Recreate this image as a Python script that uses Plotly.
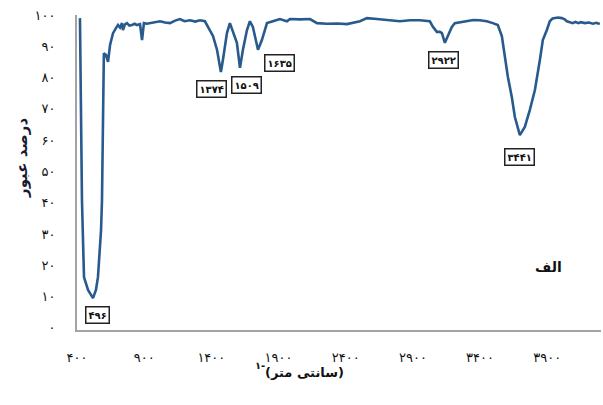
import plotly.graph_objects as go

# Wavenumber (on the chart's own axis scale) and transmittance (%)
wavenumber = [422, 430, 437, 452, 482, 519, 541, 556, 579, 586, 593, 600, 616, 631, 646, 668, 690, 705,
              720, 735, 742, 757, 772, 790, 809, 830, 846, 869, 884, 898, 920, 943, 980, 1018, 1055,
              1092, 1130, 1166, 1200, 1241, 1280, 1315, 1352, 1390, 1412, 1442, 1464, 1471, 1486, 1516,
              1538, 1561, 1590, 1613, 1635, 1665, 1687, 1709, 1739, 1747, 1776, 1814, 1858, 1910, 1962,
              1985, 2060, 2134, 2186, 2260, 2340, 2409, 2506, 2558, 2632, 2720, 2803, 2880, 2952, 3026,
              3049, 3078, 3101, 3116, 3138, 3160, 3190, 3212, 3260, 3302, 3350, 3398, 3450, 3495, 3532,
              3562, 3584, 3607, 3636, 3659, 3696, 3733, 3770, 3808, 3845, 3867, 3897, 3919, 3940, 3956,
              3980, 4008, 4030, 4046, 4070, 4090, 4110, 4130, 4150, 4180, 4210, 4240, 4265, 4291]
transmittance = [99.0, 72.8, 40.8, 16.2, 12.1, 9.5, 12.1, 16.2, 31.3, 40.8, 72.8, 87.8, 87.2, 85.0, 90.4,
                 94.2, 95.8, 96.8, 96.0, 97.4, 95.2, 97.0, 97.4, 96.6, 96.8, 97.2, 96.8, 97.1, 92.0, 97.4,
                 97.2, 97.4, 97.9, 98.0, 97.6, 97.4, 98.2, 98.7, 98.0, 98.3, 97.9, 98.3, 98.0, 95.2, 93.3,
                 88.9, 83.4, 81.8, 85.6, 94.2, 97.4, 94.6, 91.1, 83.1, 88.9, 95.2, 98.0, 96.2, 91.1, 88.9,
                 92.0, 97.4, 98.0, 98.7, 98.0, 98.7, 98.6, 98.7, 97.4, 97.2, 97.3, 97.1, 98.0, 99.0, 98.7,
                 98.3, 98.0, 98.3, 98.3, 98.0, 96.2, 94.6, 94.6, 94.2, 91.1, 93.3, 96.2, 97.4, 97.8, 98.0,
                 98.4, 98.3, 98.0, 97.4, 96.8, 93.3, 86.6, 80.2, 73.8, 67.4, 61.6, 64.2, 69.6, 76.0, 85.6,
                 92.0, 95.2, 98.0, 98.9, 99.0, 99.2, 99.0, 98.6, 98.0, 97.6, 97.4, 97.8, 97.4, 97.7, 97.4,
                 97.6, 97.2, 97.5, 97.1]

# Peak labels
peak_labels = ["۴۹۶", "۱۳۷۴", "۱۵۰۹", "۱۶۳۵", "۲۹۲۲", "۳۴۴۱"]
peak_label_x = [556, 1404, 1665, 1910, 3131, 3696]
peak_label_y = [4.1, 76.3, 77.6, 84.7, 85.6, 54.6]

# Axis ticks
x_tickvals = [400, 900, 1400, 1900, 2400, 2900, 3400, 3900]
x_ticktext = ["۴۰۰", "۹۰۰", "۱۴۰۰", "۱۹۰۰", "۲۴۰۰", "۲۹۰۰", "۳۴۰۰", "۳۹۰۰"]
y_tickvals = [0, 10, 20, 30, 40, 50, 60, 70, 80, 90, 100]
y_ticktext = ["۰", "۱۰", "۲۰", "۳۰", "۴۰", "۵۰", "۶۰", "۷۰", "۸۰", "۹۰", "۱۰۰"]

FONT = "DejaVu Sans"
W, H = 603, 405
L, R, T, B = 77, 2, 15, 75
pw, ph = W - L - R, H - T - B

fig = go.Figure()
fig.add_trace(go.Scatter(x=wavenumber, y=transmittance, mode="lines",
                         line=dict(color="#285a8e", width=2.6), hoverinfo="skip"))

for lab, lx, ly in zip(peak_labels, peak_label_x, peak_label_y):
    fig.add_annotation(x=lx, y=ly, xref="x", yref="y", text="<b>" + lab + "</b>", showarrow=False,
                       font=dict(family=FONT, size=10, color="#111"),
                       bgcolor="white", bordercolor="#222", borderwidth=1.5, borderpad=2)


def px_ann(px, py, text, size, angle=0, color="#111"):
    fig.add_annotation(x=(px - L) / pw, y=(H - B - py) / ph, xref="paper", yref="paper",
                       text=text, showarrow=False, textangle=angle,
                       xanchor="center", yanchor="middle",
                       font=dict(family=FONT, size=size, color=color))


px_ann(22, 158, "<b>درصد عبور</b>", 15, angle=-90, color="#1a1a33")
px_ann(548, 267, "<b>الف</b>", 14)
px_ann(304, 372, "<b>(سانتی متر)</b>", 13)
px_ann(260, 365, "<b>۱-</b>", 10)

fig.update_layout(
    width=W, height=H, margin=dict(l=L, r=R, t=T, b=B),
    paper_bgcolor="white", plot_bgcolor="white", showlegend=False,
    xaxis=dict(range=[400, 4300], tickvals=x_tickvals, ticktext=x_ticktext, showgrid=False,
               zeroline=False, showline=True, linecolor="#a3a3a3", linewidth=2, ticks="",
               ticklabelstandoff=14, tickfont=dict(family=FONT, size=13, color="#111")),
    yaxis=dict(range=[-0.7, 100], tickvals=y_tickvals, ticktext=y_ticktext, showgrid=False,
               zeroline=False, showline=True, linecolor="#a3a3a3", linewidth=2, ticks="",
               ticklabelstandoff=17, tickfont=dict(family=FONT, size=13, color="#111")),
)

fig.write_html("out.html")
